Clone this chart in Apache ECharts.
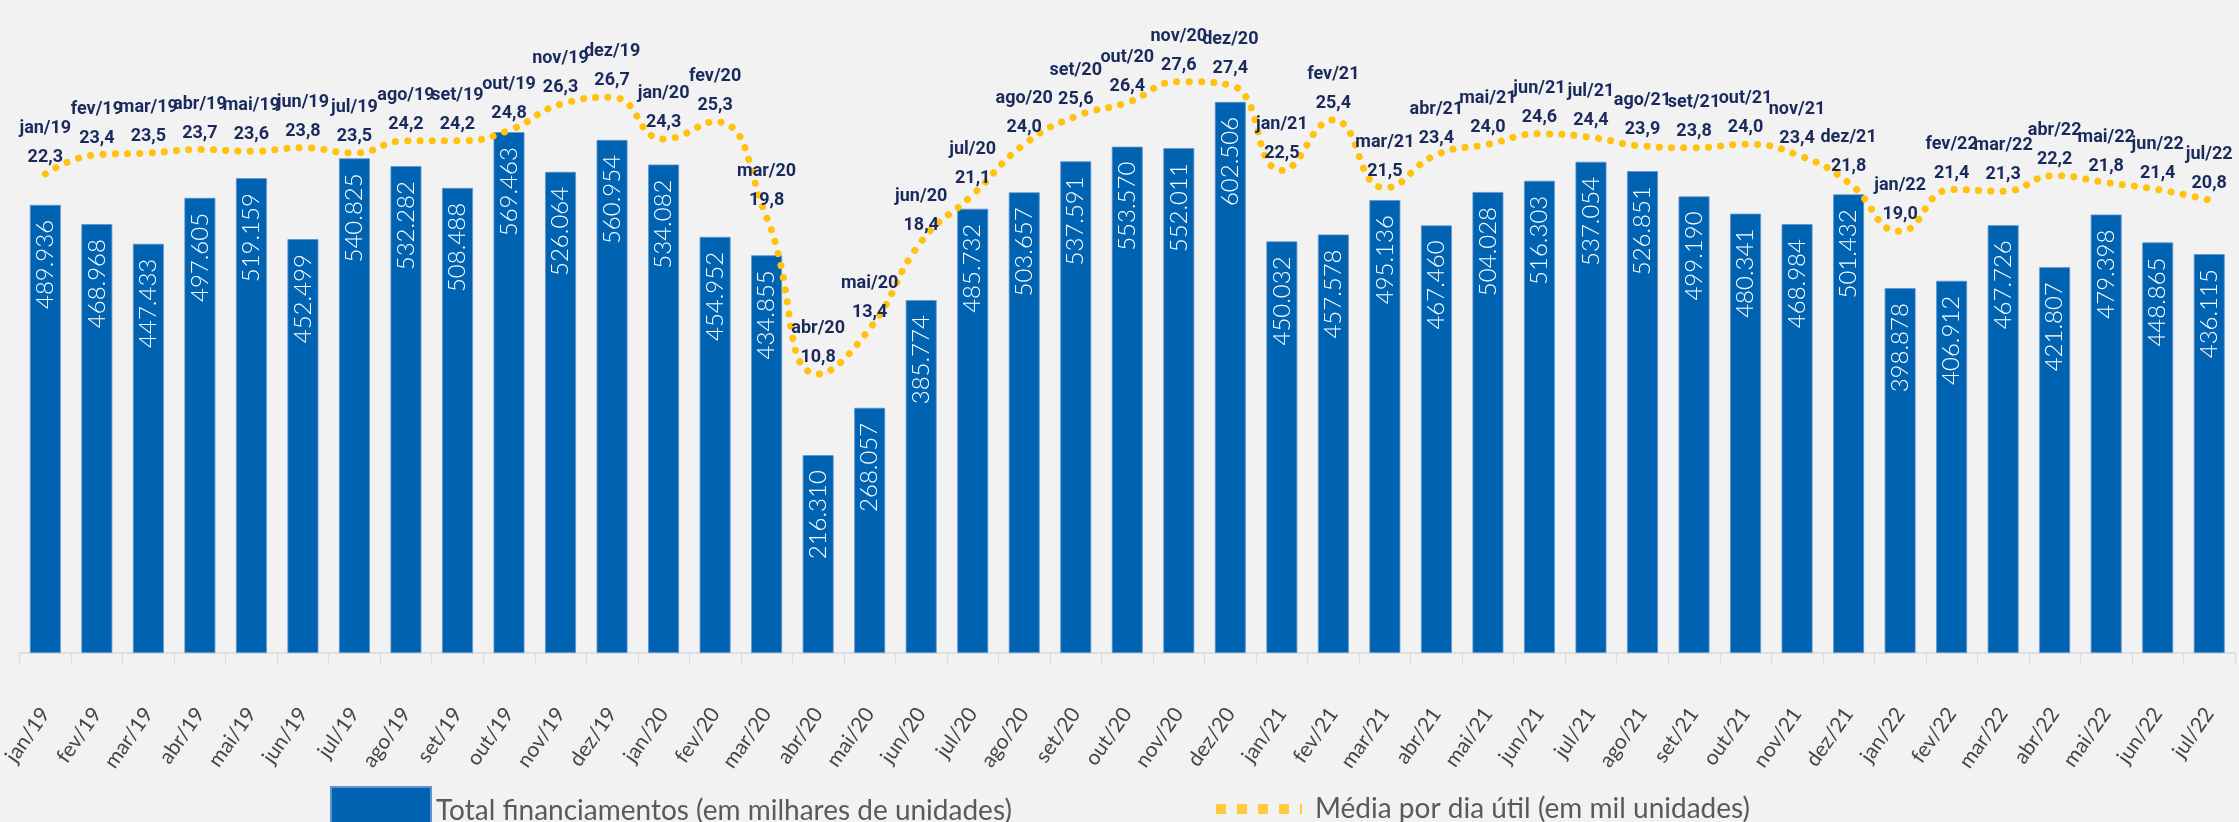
<!DOCTYPE html>
<html>
<head>
<meta charset="utf-8">
<script src="https://cdn.jsdelivr.net/npm/echarts@6/dist/echarts.min.js"></script>
<style>
  html, body { margin: 0; padding: 0; background: #F2F2F2; }
  #chart { width: 2239px; height: 822px; }
</style>
</head>
<body>
<div id="chart"></div>
<script>
const categories = [
  'jan/19','fev/19','mar/19','abr/19','mai/19','jun/19','jul/19','ago/19','set/19','out/19','nov/19','dez/19',
  'jan/20','fev/20','mar/20','abr/20','mai/20','jun/20','jul/20','ago/20','set/20','out/20','nov/20','dez/20',
  'jan/21','fev/21','mar/21','abr/21','mai/21','jun/21','jul/21','ago/21','set/21','out/21','nov/21','dez/21',
  'jan/22','fev/22','mar/22','abr/22','mai/22','jun/22','jul/22'
];
const totalFinanciamentos = [
  489.936, 468.968, 447.433, 497.605, 519.159, 452.499, 540.825, 532.282, 508.488, 569.463, 526.064, 560.954,
  534.082, 454.952, 434.855, 216.310, 268.057, 385.774, 485.732, 503.657, 537.591, 553.570, 552.011, 602.506,
  450.032, 457.578, 495.136, 467.460, 504.028, 516.303, 537.054, 526.851, 499.190, 480.341, 468.984, 501.432,
  398.878, 406.912, 467.726, 421.807, 479.398, 448.865, 436.115
];
const mediaDiaUtil = [
  22.3, 23.4, 23.5, 23.7, 23.6, 23.8, 23.5, 24.2, 24.2, 24.8, 26.3, 26.7,
  24.3, 25.3, 19.8, 10.8, 13.4, 18.4, 21.1, 24.0, 25.6, 26.4, 27.6, 27.4,
  22.5, 25.4, 21.5, 23.4, 24.0, 24.6, 24.4, 23.9, 23.8, 24.0, 23.4, 21.8,
  19.0, 21.4, 21.3, 22.2, 21.8, 21.4, 20.8
];
const seriesNames = ['Total financiamentos (em milhares de unidades)', 'Média por dia útil (em mil unidades)'];

const BLUE = '#0063B2';
const YELLOW = '#FFC20E';
const NAVY = '#1A2A5C';

const chart = echarts.init(document.getElementById('chart'), null, { renderer: 'canvas' });
chart.setOption({
  backgroundColor: '#F2F2F2',
  animation: false,
  grid: { left: 18, right: 4, top: 58.5, bottom: 169, containLabel: false },
  legend: [
    {
      data: [seriesNames[0]],
      left: 325, top: 781,
      itemWidth: 100, itemHeight: 48,
      icon: 'rect',
      selectedMode: false,
      textStyle: { fontFamily: 'Lato', fontSize: 28, color: '#5A5A5A', lineHeight: 34 }
    },
    {
      data: [{
        name: seriesNames[1],
        icon: 'path://M0,0h10v10h-10z M21,0h10v10h-10z M42,0h10v10h-10z M63,0h10v10h-10z M84,0h2v10h-2z',
        itemStyle: { color: '#FFCB3C', opacity: 1 }
      }],
      left: 1211, top: 787,
      itemWidth: 86, itemHeight: 10,
      selectedMode: false,
      textStyle: { fontFamily: 'Lato', fontSize: 28, color: '#5A5A5A', lineHeight: 34, padding: [0, 0, 0, 8] }
    }
  ],
  xAxis: {
    type: 'category',
    data: categories,
    boundaryGap: true,
    axisLine: { show: true, lineStyle: { color: '#D9D9D9', width: 1.5 } },
    axisTick: { show: true, interval: 0, length: 10, lineStyle: { color: '#D9D9D9', width: 1.2 } },
    axisLabel: {
      interval: 0, rotate: 55, margin: 57,
      fontFamily: 'Lato', fontSize: 21, color: '#454545'
    },
    splitLine: { show: false }
  },
  yAxis: [
    { type: 'value', min: 0, max: 650, show: false, splitLine: { show: false } },
    { type: 'value', min: -5.23, max: 28.93, show: false, splitLine: { show: false } }
  ],
  series: [
    {
      name: seriesNames[0],
      type: 'bar',
      data: totalFinanciamentos,
      barWidth: '60%',
      itemStyle: { color: BLUE, borderColor: '#5E93CF', borderWidth: 0.8 },
      label: {
        show: true,
        position: 'insideTop',
        rotate: 90,
        align: 'right',
        verticalAlign: 'middle',
        distance: 15,
        fontFamily: 'Lato',
        fontWeight: 300,
        fontSize: 24,
        color: '#FFFFFF',
        formatter: p => p.value.toFixed(3)
      },
      z: 2
    },
    {
      name: seriesNames[1],
      type: 'line',
      yAxisIndex: 1,
      data: mediaDiaUtil,
      smooth: true,
      symbol: 'circle',
      symbolSize: 2,
      itemStyle: { color: 'rgba(255,194,14,0)' },
      lineStyle: { color: YELLOW, width: 7, type: [0.1, 12.2], cap: 'round' },
      label: {
        show: true,
        position: 'top',
        distance: 1,
        fontFamily: 'Roboto',
        fontWeight: 'bold',
        fontSize: 18,
        lineHeight: 29,
        color: NAVY,
        formatter: p => p.name + '\n' + p.value.toFixed(1).replace('.', ',')
      },
      z: 4
    }
  ]
});
</script>
</body>
</html>
